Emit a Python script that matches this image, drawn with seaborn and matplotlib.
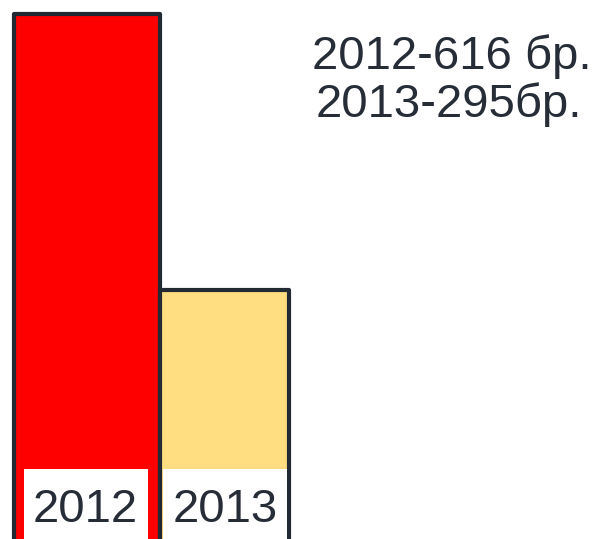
import seaborn as sns
import matplotlib.pyplot as plt
from matplotlib.patches import Rectangle
import pandas as pd

# data
years = ["2012", "2013"]
counts = [616, 295]
bar_colors = ["#FF0000", "#FFDD80"]
summary_lines = ["2012-616 бр.", "2013-295бр."]

W, H = 597, 539
edge = "#212A32"
txt = "#262D36"

sns.set_style("white")
plt.rcParams["font.family"] = ["Liberation Sans", "DejaVu Sans"]

fig = plt.figure(figsize=(W / 100, H / 100), dpi=100)
ax = fig.add_axes([0, 0, 1, 1])

df = pd.DataFrame({"year": years, "count": counts})
sns.barplot(data=df, x="year", y="count", hue="year",
            palette=dict(zip(years, bar_colors)), dodge=False,
            legend=False, ax=ax, width=1.0, saturation=1)

# bars touch each other, second one a bit narrower
bars = sorted([p for p in ax.patches if p.get_height() > 0], key=lambda p: p.get_x())
widths = [1.0, 129 / 146]
left = -0.5
for p, w in zip(bars, widths):
    p.set_x(left)
    p.set_width(w)
    p.set_edgecolor(edge)
    p.set_linewidth(3.0)
    p.set_joinstyle("round")
    left += w

x0 = -0.5 - 14 / 146
ax.set_xlim(x0, x0 + W / 146)
ax.set_ylim(5.4, 632.3)
ax.axis("off")

# white label boxes at the bottom of the bars
def px(x, y):
    return x / W, 1 - y / H

for (bx0, bx1) in [(24, 148), (163, 287)]:
    fig.patches.append(Rectangle(px(bx0, H), (bx1 - bx0) / W, (H - 469) / H,
                                 transform=fig.transFigure, facecolor="white",
                                 edgecolor="none", zorder=5))

for yr, cx in zip(years, [85, 225]):
    fig.text(*px(cx, 522), yr, ha="center", va="baseline",
             fontsize=34, color=txt, zorder=6)

for line, cx, by in zip(summary_lines, [452, 449], [69, 117]):
    fig.text(*px(cx, by), line, ha="center", va="baseline",
             fontsize=34, color=txt)

fig.savefig("out.png", dpi=100)
